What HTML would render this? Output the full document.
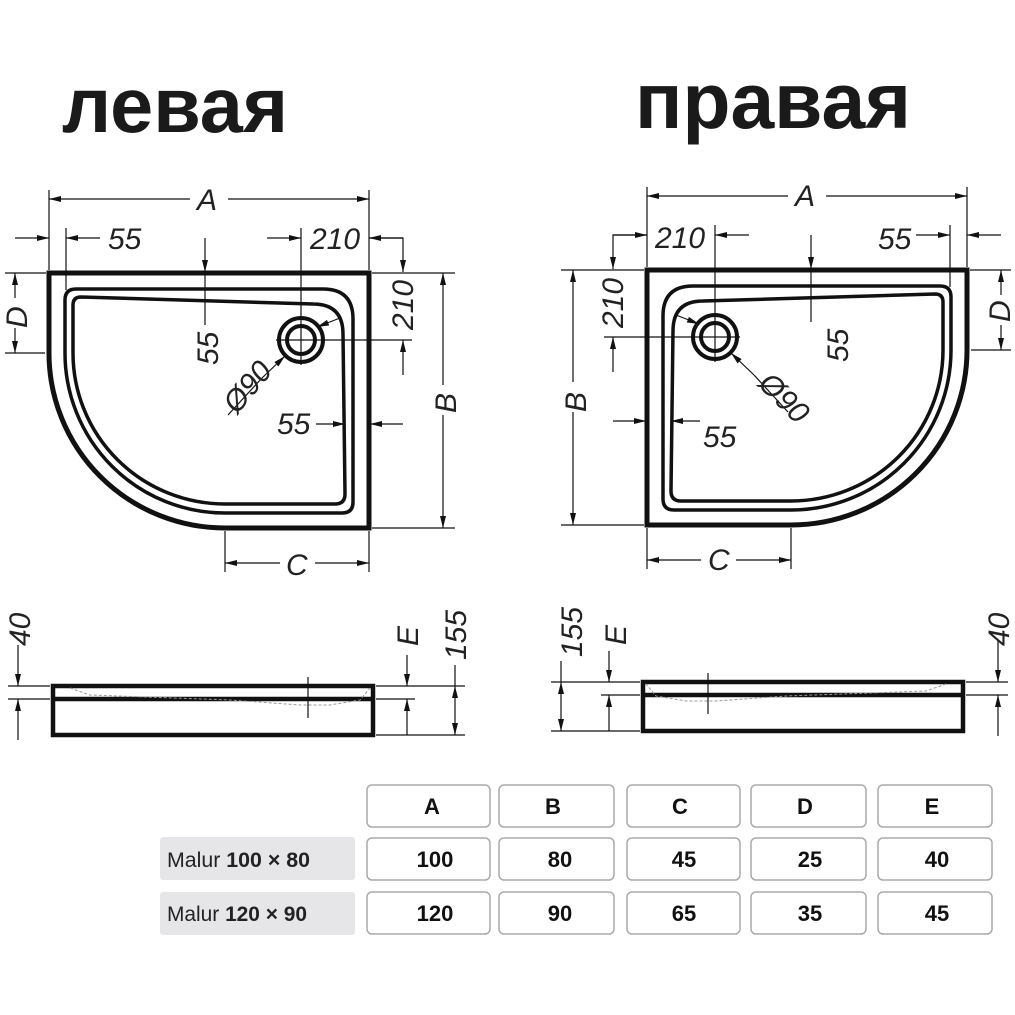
<!DOCTYPE html>
<html><head><meta charset="utf-8"><style>
html,body{margin:0;padding:0;background:#fff;}
svg{display:block;}
.t{font-family:"Liberation Sans",sans-serif;font-style:italic;font-size:30px;fill:#222;}
.h{font-family:"Liberation Sans",sans-serif;font-weight:bold;fill:#1a1a1a;}
.tb{font-family:"Liberation Sans",sans-serif;font-size:22px;fill:#111;font-weight:bold;text-anchor:middle;}
</style></head><body>
<svg width="1015" height="1015" viewBox="0 0 1015 1015" xmlns="http://www.w3.org/2000/svg">
<defs>
<marker id="a" viewBox="0 0 12 6" refX="12" refY="3" markerWidth="12" markerHeight="6" markerUnits="userSpaceOnUse" orient="auto-start-reverse">
<path d="M0,0 L12,3 L0,6 Z" fill="#111"/></marker>
<g id="plan">
 <!-- outer shell -->
 <path d="M49,353 L49,273 L369,273 L369,528 L225,528 A176,175 0 0 1 49,353" fill="none" stroke="#111" stroke-width="5"/>
 <!-- rim -->
 <path d="M65,300 Q65,289 76,289 L323,289 Q353,289 353,319 L353,502 Q353,513 342,513 L225,513 A160,160 0 0 1 65,353 Z" fill="none" stroke="#111" stroke-width="3.5"/>
 <!-- basin -->
 <path d="M73,305 Q73,297 81,297 L313,304 Q343,304 343,334 L345,494 Q345,504 335,504 L225,504 A152,151 0 0 1 73,353 Z" fill="none" stroke="#111" stroke-width="3.5"/>
 <circle cx="301" cy="340" r="22" fill="#fff" stroke="#111" stroke-width="4"/>
 <circle cx="301" cy="340" r="14" fill="none" stroke="#111" stroke-width="4"/>
 <g stroke="#111" stroke-width="1.2" fill="none">
  <!-- A -->
  <line x1="49" y1="190" x2="49" y2="270"/><line x1="369" y1="190" x2="369" y2="270"/>
  <line x1="49" y1="199" x2="190" y2="199" marker-start="url(#a)"/>
  <line x1="228" y1="199" x2="369" y2="199" marker-end="url(#a)"/>
  <!-- 55 top -->
  <line x1="15" y1="238" x2="49" y2="238" marker-end="url(#a)"/>
  <line x1="100" y1="238" x2="66" y2="238" marker-end="url(#a)"/>
  <line x1="66" y1="228" x2="66" y2="290"/>
  <!-- 210 top -->
  <line x1="267" y1="238" x2="301" y2="238" marker-end="url(#a)"/>
  <line x1="403" y1="238" x2="369" y2="238" marker-end="url(#a)"/>
  <line x1="301" y1="228" x2="301" y2="365"/>
  <!-- 210 vertical -->
  <polyline points="369,238 403,238 403,272" marker-end="url(#a)"/>
  <line x1="403" y1="375" x2="403" y2="340" marker-end="url(#a)"/>
  <line x1="276" y1="340" x2="412" y2="340"/>
  <line x1="200" y1="360" x2="279" y2="318" opacity="0"/>
  <!-- B -->
  <line x1="372" y1="273" x2="455" y2="273"/><line x1="372" y1="528" x2="455" y2="528"/>
  <line x1="443" y1="273" x2="443" y2="385" marker-start="url(#a)"/>
  <line x1="443" y1="415" x2="443" y2="528" marker-end="url(#a)"/>
  <!-- D -->
  <line x1="5" y1="273" x2="46" y2="273"/><line x1="5" y1="353" x2="45" y2="353"/>
  <line x1="15" y1="273" x2="15" y2="298" marker-start="url(#a)"/>
  <line x1="15" y1="328" x2="15" y2="353" marker-end="url(#a)"/>
  <!-- 55 inner vertical -->
  <line x1="205" y1="238" x2="205" y2="272" marker-end="url(#a)"/>
  <line x1="205" y1="273" x2="205" y2="325"/>
  <!-- Ø90 leader -->
  <line x1="262" y1="378" x2="285" y2="356" marker-end="url(#a)"/>
  <line x1="340" y1="318" x2="317" y2="327" marker-end="url(#a)"/>
  <line x1="262" y1="378" x2="228" y2="415"/>
  <!-- 55 right -->
  <line x1="403" y1="424" x2="370" y2="424" marker-end="url(#a)"/>
  <line x1="316" y1="424" x2="345" y2="424" marker-end="url(#a)"/>
  <!-- C -->
  <line x1="225" y1="531" x2="225" y2="572"/><line x1="369" y1="531" x2="369" y2="572"/>
  <line x1="225" y1="563" x2="280" y2="563" marker-start="url(#a)"/>
  <line x1="315" y1="563" x2="369" y2="563" marker-end="url(#a)"/>
 </g>
</g>
<g id="side">
 <rect x="53" y="686" width="320" height="49" fill="none" stroke="#111" stroke-width="4.5"/>
 <line x1="53" y1="699" x2="373" y2="699" stroke="#111" stroke-width="4.5"/>
 <path d="M70,688 L90,695 L230,700 L300,705 L330,705 L360,700 L370,688" fill="none" stroke="#999" stroke-width="1" stroke-dasharray="3,2"/>
 <g stroke="#111" stroke-width="1.2" fill="none">
  <line x1="308" y1="677" x2="308" y2="718"/>
  <line x1="8" y1="686" x2="50" y2="686"/><line x1="8" y1="699" x2="50" y2="699"/>
  <line x1="18" y1="645" x2="18" y2="686" marker-end="url(#a)"/>
  <line x1="18" y1="740" x2="18" y2="699" marker-end="url(#a)"/>
  <line x1="376" y1="686" x2="465" y2="686"/><line x1="376" y1="699" x2="415" y2="699"/><line x1="376" y1="735" x2="465" y2="735"/>
  <line x1="407" y1="655" x2="407" y2="686" marker-end="url(#a)"/>
  <line x1="407" y1="735" x2="407" y2="699" marker-end="url(#a)"/>
  <line x1="455" y1="665" x2="455" y2="686"/>
  <line x1="455" y1="710" x2="455" y2="686" marker-end="url(#a)"/>
  <line x1="455" y1="710" x2="455" y2="735" marker-end="url(#a)"/>
 </g>
</g>
</defs>
<rect width="1015" height="1015" fill="#fff"/>
<use href="#plan"/>
<use href="#plan" transform="translate(1016,-3) scale(-1,1)"/>
<use href="#side"/>
<use href="#side" transform="translate(1016,-4) scale(-1,1)"/>

<text class="h" x="62" y="132" font-size="78" textLength="226" lengthAdjust="spacingAndGlyphs">левая</text>
<text class="h" x="635" y="128" font-size="79" textLength="276" lengthAdjust="spacingAndGlyphs">правая</text>

<!-- left plan labels -->
<text class="t" x="197" y="210">A</text>
<text class="t" x="108" y="249">55</text>
<text class="t" x="310" y="249">210</text>
<text class="t" transform="translate(413,330) rotate(-90)">210</text>
<text class="t" transform="translate(456,413) rotate(-90)">B</text>
<text class="t" transform="translate(27,328) rotate(-90)">D</text>
<text class="t" transform="translate(218,365) rotate(-90)">55</text>
<text class="t" transform="translate(237,415) rotate(-50)">Ø90</text>
<text class="t" x="277" y="434">55</text>
<text class="t" x="286" y="575">C</text>
<!-- right plan labels -->
<text class="t" x="795" y="206">A</text>
<text class="t" x="655" y="248">210</text>
<text class="t" x="878" y="249">55</text>
<text class="t" transform="translate(623,328) rotate(-90)">210</text>
<text class="t" transform="translate(586,412) rotate(-90)">B</text>
<text class="t" transform="translate(1010,322) rotate(-90)">D</text>
<text class="t" transform="translate(848,362) rotate(-90)">55</text>
<text class="t" transform="translate(757,385) rotate(45)">Ø90</text>
<text class="t" x="703" y="447">55</text>
<text class="t" x="708" y="570">C</text>
<!-- side labels -->
<text class="t" transform="translate(30,646) rotate(-90)">40</text>
<text class="t" transform="translate(418,646) rotate(-90)">E</text>
<text class="t" transform="translate(466,660) rotate(-90)">155</text>
<text class="t" transform="translate(582,657) rotate(-90)">155</text>
<text class="t" transform="translate(626,645) rotate(-90)">E</text>
<text class="t" transform="translate(1009,646) rotate(-90)">40</text>

<!-- table -->
<g fill="#fff" stroke="#aaa" stroke-width="1.5">
 <rect x="367" y="785" width="123" height="42" rx="5"/><rect x="499" y="785" width="115" height="42" rx="5"/><rect x="627" y="785" width="113" height="42" rx="5"/><rect x="751" y="785" width="115" height="42" rx="5"/><rect x="878" y="785" width="114" height="42" rx="5"/>
 <rect x="367" y="838" width="123" height="42" rx="5"/><rect x="499" y="838" width="115" height="42" rx="5"/><rect x="627" y="838" width="113" height="42" rx="5"/><rect x="751" y="838" width="115" height="42" rx="5"/><rect x="878" y="838" width="114" height="42" rx="5"/>
 <rect x="367" y="892" width="123" height="42" rx="5"/><rect x="499" y="892" width="115" height="42" rx="5"/><rect x="627" y="892" width="113" height="42" rx="5"/><rect x="751" y="892" width="115" height="42" rx="5"/><rect x="878" y="892" width="114" height="42" rx="5"/>
</g>
<rect x="160" y="837" width="195" height="43" rx="3" fill="#e6e6e8"/>
<rect x="160" y="892" width="195" height="43" rx="3" fill="#e6e6e8"/>
<g class="tb">
 <text x="432" y="814">A</text><text x="553" y="814">B</text><text x="680" y="814">C</text><text x="805" y="814">D</text><text x="932" y="814">E</text>
 <text x="435" y="867">100</text><text x="560" y="867">80</text><text x="684" y="867">45</text><text x="810" y="867">25</text><text x="937" y="867">40</text>
 <text x="435" y="921">120</text><text x="560" y="921">90</text><text x="684" y="921">65</text><text x="810" y="921">35</text><text x="937" y="921">45</text>
</g>
<text x="167" y="867" font-family="Liberation Sans,sans-serif" font-size="21" fill="#222" textLength="143" lengthAdjust="spacingAndGlyphs">Malur <tspan font-weight="bold">100 × 80</tspan></text>
<text x="167" y="921" font-family="Liberation Sans,sans-serif" font-size="21" fill="#222" textLength="140" lengthAdjust="spacingAndGlyphs">Malur <tspan font-weight="bold">120 × 90</tspan></text>
</svg>
</body></html>
